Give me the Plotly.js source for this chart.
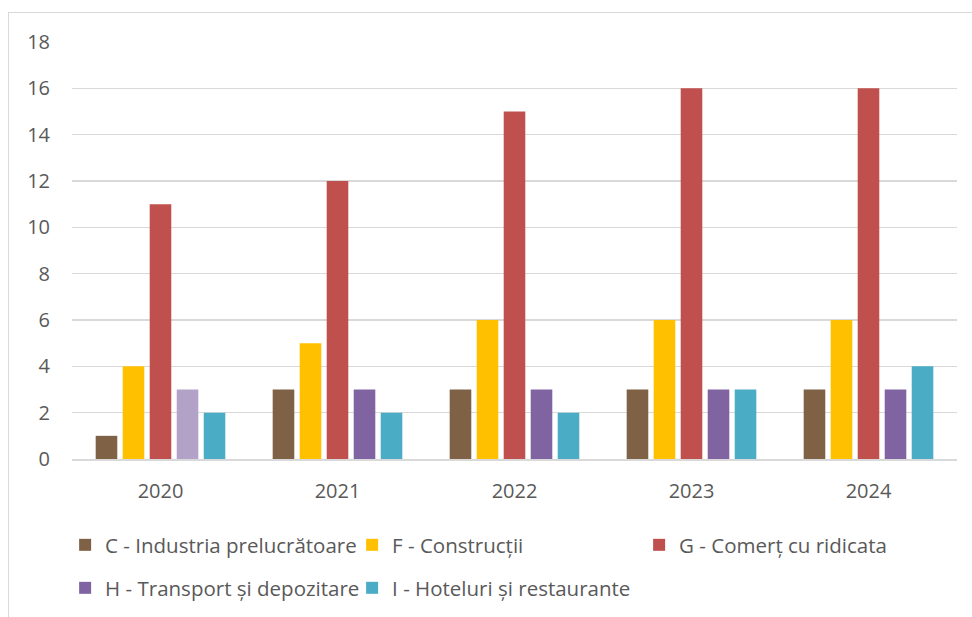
<!DOCTYPE html>
<html>
<head>
<meta charset="utf-8">
<script src="https://cdn.plot.ly/plotly-3.0.1.min.js"></script>
<style>
  html, body { margin: 0; padding: 0; background: #ffffff; }
  #frame { position: absolute; left: 8px; top: 12px; width: 980px; height: 620px; border: 1px solid #d9d9d9; box-sizing: border-box; }
  #chart { position: absolute; left: 0; top: 0; width: 972px; height: 617px; }
</style>
</head>
<body>
<div id="frame"></div>
<div id="chart"></div>
<script>
const years = ['2020', '2021', '2022', '2023', '2024'];
const seriesNames = [
  'C - Industria prelucrătoare',
  'F - Construcții',
  'G - Comerț cu ridicata',
  'H - Transport și depozitare',
  'I - Hoteluri și restaurante'
];
const valuesC = [1, 3, 3, 3, 3];
const valuesF = [4, 5, 6, 6, 6];
const valuesG = [11, 12, 15, 16, 16];
const valuesH = [3, 3, 3, 3, 3];
const valuesI = [2, 2, 2, 3, 4];
const yTicks = [0, 2, 4, 6, 8, 10, 12, 14, 16, 18];

const colors = ['#7F6245', '#FFC000', '#C0504D', '#8064A2', '#4BACC6'];
const colorH2020 = '#B3A2C7';

const font = { family: '"Open Sans", Lato, sans-serif', size: 20, color: '#595959' };
const legendFont = { family: '"Open Sans", Lato, sans-serif', size: 20.5, color: '#595959' };

function barTrace(i, xs, ys, color, legendId, showlegend) {
  return {
    type: 'bar',
    name: seriesNames[i],
    x: xs,
    y: ys,
    offsetgroup: 'g' + i,
    legend: legendId,
    showlegend: showlegend,
    marker: { color: color },
    hoverinfo: 'x+y+name'
  };
}

const traces = [
  barTrace(0, years, valuesC, colors[0], 'legend', true),
  barTrace(1, years, valuesF, colors[1], 'legend', true),
  barTrace(2, years, valuesG, colors[2], 'legend', true),
  barTrace(3, years.slice(1), valuesH.slice(1), colors[3], 'legend2', true),
  barTrace(3, years.slice(0, 1), valuesH.slice(0, 1), colorH2020, 'legend2', false),
  barTrace(4, years, valuesI, colors[4], 'legend2', true)
];

const layout = {
  width: 972,
  height: 617,
  paper_bgcolor: 'rgba(0,0,0,0)',
  plot_bgcolor: 'rgba(0,0,0,0)',
  margin: { l: 72, r: 15, t: 42, b: 158 },
  font: font,
  barmode: 'group',
  bargap: 0.237,
  bargroupgap: 0.2,
  showlegend: true,
  xaxis: {
    type: 'category',
    categoryorder: 'array',
    categoryarray: years,
    tickfont: font,
    showgrid: false,
    showline: true,
    linecolor: '#d9d9d9',
    linewidth: 1.5,
    ticks: '',
    ticklabelstandoff: 13
  },
  yaxis: {
    range: [0, 18],
    tickvals: yTicks,
    ticktext: yTicks.map(String),
    tickfont: font,
    showgrid: true,
    gridcolor: '#d9d9d9',
    gridwidth: 1.5,
    zeroline: false,
    showline: false,
    ticks: '',
    ticklabelstandoff: 21
  },
  legend: {
    orientation: 'h',
    xref: 'container', yref: 'container',
    x: 0.067, y: (617 - 545) / 617,
    xanchor: 'left', yanchor: 'middle',
    entrywidth: 242, entrywidthmode: 'pixels',
    itemwidth: 30,
    font: legendFont,
    bgcolor: 'rgba(0,0,0,0)',
    itemclick: false
  },
  legend2: {
    orientation: 'h',
    xref: 'container', yref: 'container',
    x: 0.067, y: (617 - 588) / 617,
    xanchor: 'left', yanchor: 'middle',
    entrywidth: 242, entrywidthmode: 'pixels',
    itemwidth: 30,
    font: legendFont,
    bgcolor: 'rgba(0,0,0,0)',
    itemclick: false
  }
};

Plotly.newPlot('chart', traces, layout, { displayModeBar: false, staticPlot: true });
</script>
</body>
</html>
